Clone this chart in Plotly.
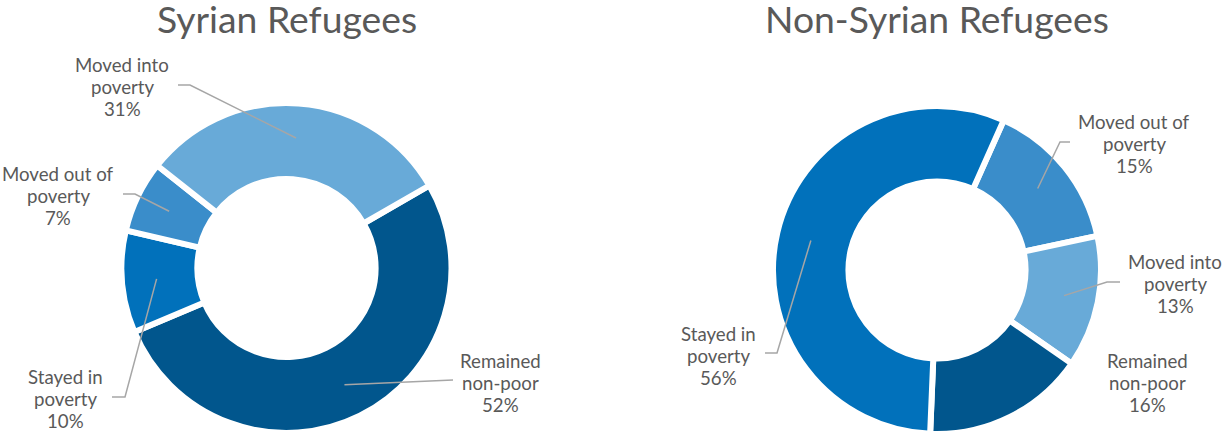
import math
import plotly.graph_objects as go

W, H = 1225, 434

# Poverty transitions, in percent, listed in clockwise drawing order
syrian_categories = ["Remained non-poor", "Stayed in poverty", "Moved out of poverty", "Moved into poverty"]
syrian_values = [52, 10, 7, 31]

non_syrian_categories = ["Moved out of poverty", "Moved into poverty", "Remained non-poor", "Stayed in poverty"]
non_syrian_values = [15, 13, 16, 56]

panel_titles = ["Syrian Refugees", "Non-Syrian Refugees"]

label_lines = {
    "Remained non-poor": ["Remained", "non-poor"],
    "Stayed in poverty": ["Stayed in", "poverty"],
    "Moved out of poverty": ["Moved out of", "poverty"],
    "Moved into poverty": ["Moved into", "poverty"],
}

palette = {
    "Remained non-poor": "#01568D",
    "Stayed in poverty": "#0171BB",
    "Moved out of poverty": "#3A8DCA",
    "Moved into poverty": "#68AAD8",
}

TEXT = "#595959"
LEADER = "#A6A6A6"
FONT = "Lato"
LABEL_SIZE = 18.67
LINE_GAP = 21.8


def px_x(x):
    return x / W


def px_y(y):
    return 1 - y / H


# Donut geometry (pixel centre, radius, start angle) and label placement per panel
panels = [
    dict(cats=syrian_categories, vals=syrian_values, cx=286.5, cy=268, r=165, rot=60,
         title_x=287,
         labels={
             "Moved into poverty": dict(pos=(122, 87), path=[(190, 85), (178, 85)]),
             "Moved out of poverty": dict(pos=(58, 196), path=[(135, 194), (123, 194)]),
             "Stayed in poverty": dict(pos=(65, 399), path=[(125, 397), (112, 397)]),
             "Remained non-poor": dict(pos=(500, 383), path=[(453, 380)]),
         }),
    dict(cats=non_syrian_categories, vals=non_syrian_values, cx=937, cy=270, r=164, rot=24,
         title_x=937,
         labels={
             "Stayed in poverty": dict(pos=(718, 356), path=[(777, 353), (765, 353)]),
             "Moved out of poverty": dict(pos=(1134, 144), path=[(1060, 142), (1070, 142)]),
             "Moved into poverty": dict(pos=(1175, 284), path=[(1107, 282), (1120, 282)]),
             "Remained non-poor": dict(pos=(1147, 383), path=None),
         }),
]

fig = go.Figure()
shapes = []
annotations = []

for idx, p in enumerate(panels):
    fig.add_trace(go.Pie(
        labels=p["cats"],
        values=p["vals"],
        sort=False,
        direction="clockwise",
        rotation=p["rot"],
        hole=0.54,
        textinfo="none",
        hoverinfo="label+percent",
        showlegend=False,
        marker=dict(colors=[palette[c] for c in p["cats"]],
                    line=dict(color="white", width=6)),
        domain=dict(x=[px_x(p["cx"] - p["r"]), px_x(p["cx"] + p["r"])],
                    y=[max(0, px_y(p["cy"] + p["r"])), min(1, px_y(p["cy"] - p["r"]))]),
    ))

    total = sum(p["vals"])
    start = p["rot"]
    for cat, val in zip(p["cats"], p["vals"]):
        sweep = 360 * val / total
        mid = math.radians(start + sweep / 2)
        start += sweep
        spec = p["labels"][cat]
        pct = round(100 * val / total)
        lines = label_lines[cat] + [f"{pct}%"]
        lx, ly = spec["pos"]
        for k, line in enumerate(lines):
            annotations.append(dict(
                x=px_x(lx), y=px_y(ly + (k - 1) * LINE_GAP),
                xref="paper", yref="paper", xanchor="center", yanchor="middle",
                text=line, showarrow=False,
                font=dict(family=FONT, size=LABEL_SIZE, color=TEXT),
            ))
        if spec["path"]:
            rr = 0.79 * p["r"]
            ix = p["cx"] + rr * math.sin(mid)
            iy = p["cy"] - rr * math.cos(mid)
            pts = [(ix, iy)] + spec["path"]
            d = "M " + " L ".join(f"{px_x(x):.5f},{px_y(y):.5f}" for x, y in pts)
            shapes.append(dict(type="path", path=d, xref="paper", yref="paper",
                               line=dict(color=LEADER, width=1.5)))

    annotations.append(dict(
        x=px_x(p["title_x"]), y=px_y(18), xref="paper", yref="paper",
        xanchor="center", yanchor="middle", showarrow=False,
        text=panel_titles[idx],
        font=dict(family=FONT, size=37.3, color=TEXT),
    ))

fig.update_layout(
    width=W, height=H,
    margin=dict(l=0, r=0, t=0, b=0),
    paper_bgcolor="white", plot_bgcolor="white",
    shapes=shapes, annotations=annotations,
)

fig.write_html("out.html")
